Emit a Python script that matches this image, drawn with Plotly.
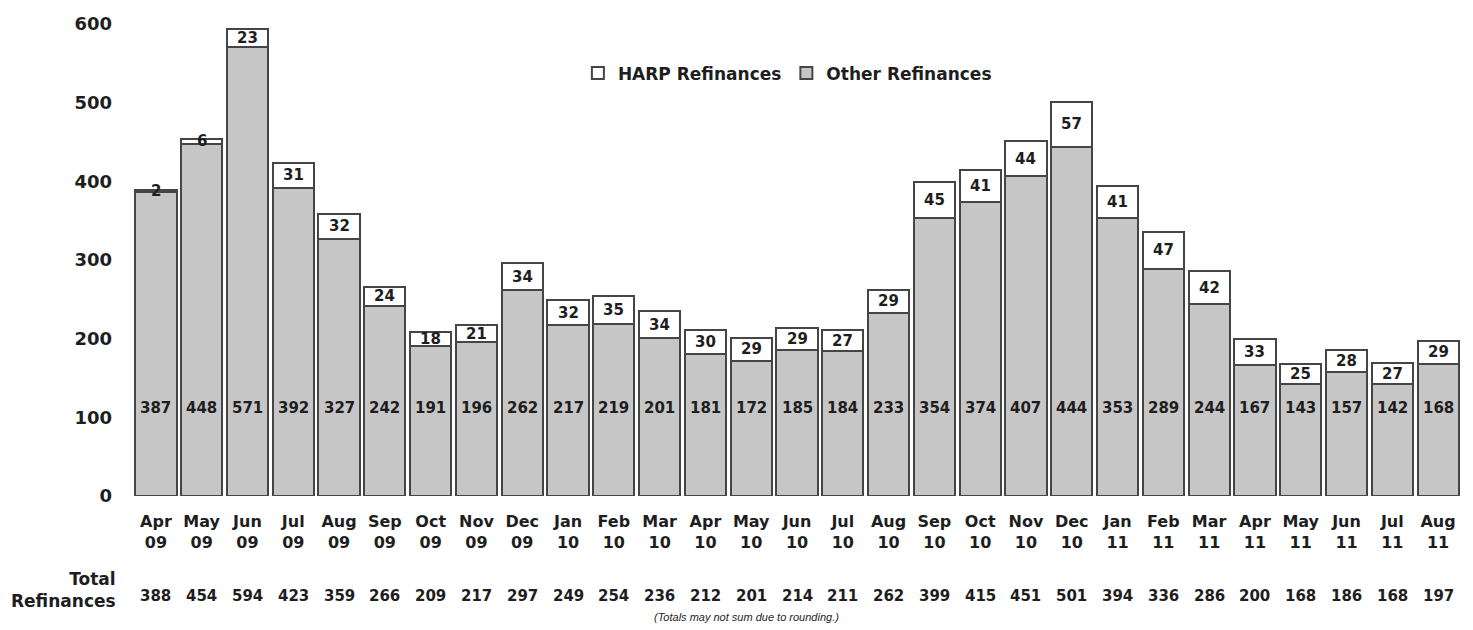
import plotly.graph_objects as go

months = ["Apr 09", "May 09", "Jun 09", "Jul 09", "Aug 09", "Sep 09", "Oct 09", "Nov 09", "Dec 09",
          "Jan 10", "Feb 10", "Mar 10", "Apr 10", "May 10", "Jun 10", "Jul 10", "Aug 10", "Sep 10",
          "Oct 10", "Nov 10", "Dec 10", "Jan 11", "Feb 11", "Mar 11", "Apr 11", "May 11", "Jun 11",
          "Jul 11", "Aug 11"]
other = [387, 448, 571, 392, 327, 242, 191, 196, 262, 217, 219, 201, 181, 172, 185, 184, 233, 354,
         374, 407, 444, 353, 289, 244, 167, 143, 157, 142, 168]
harp = [2, 6, 23, 31, 32, 24, 18, 21, 34, 32, 35, 34, 30, 29, 29, 27, 29, 45, 41, 44, 57, 41, 47,
        42, 33, 25, 28, 27, 29]
totals = [388, 454, 594, 423, 359, 266, 209, 217, 297, 249, 254, 236, 212, 201, 214, 211, 262, 399,
          415, 451, 501, 394, 336, 286, 200, 168, 186, 168, 197]

FONT = "DejaVu Sans"
TXT = "#1e1e1e"
GRAY = "#c6c6c6"
EDGE = "#454545"

fig = go.Figure()
fig.add_trace(go.Bar(x=months, y=other, name="<b>Other Refinances</b>",
                     marker=dict(color=GRAY, line=dict(color=EDGE, width=2))))
fig.add_trace(go.Bar(x=months, y=harp, name="<b>HARP Refinances</b>",
                     marker=dict(color="white", line=dict(color=EDGE, width=2))))

annotations = []
for m, o, h, t in zip(months, other, harp, totals):
    annotations.append(dict(x=m, y=112, xref="x", yref="y", text=f"<b>{o}</b>", showarrow=False,
                            font=dict(family=FONT, size=15, color=TXT), yanchor="middle"))
    annotations.append(dict(x=m, y=o + h / 2, xref="x", yref="y", text=f"<b>{h}</b>", showarrow=False,
                            font=dict(family=FONT, size=15, color=TXT), yanchor="middle"))
    annotations.append(dict(x=m, y=-0.212, xref="x", yref="paper",
                            text=f"<b>{t}</b>", showarrow=False,
                            font=dict(family=FONT, size=15, color=TXT), yanchor="middle"))

annotations.append(dict(x=-0.011, y=-0.2, xref="paper", yref="paper", text="<b>Total<br>Refinances</b>",
                        showarrow=False, xanchor="right", align="right", yanchor="middle",
                        font=dict(family=FONT, size=17, color=TXT)))
annotations.append(dict(x=0.4616, y=-0.257, xref="paper", yref="paper",
                        text="<i>(Totals may not sum due to rounding.)</i>", showarrow=False,
                        yanchor="middle", font=dict(family="Liberation Sans", size=11, color=TXT)))

ticktext = [m.replace(" ", "<br>") for m in months]

fig.update_layout(
    width=1465, height=622,
    margin=dict(l=125, r=12, t=16, b=134),
    paper_bgcolor="white", plot_bgcolor="white",
    barmode="stack", bargap=0.1,
    showlegend=True,
    legend=dict(orientation="h", x=0.335, y=0.895, xanchor="left", yanchor="middle",
                traceorder="reversed", font=dict(family=FONT, size=17, color=TXT),
                itemwidth=30, bgcolor="rgba(0,0,0,0)"),
    annotations=annotations,
    xaxis=dict(tickmode="array", tickvals=months, ticktext=[f"<b>{t}</b>" for t in ticktext],
               tickfont=dict(family=FONT, size=16, color=TXT), showgrid=False, showline=False,
               ticks="", ticklabelstandoff=14, automargin=False),
    yaxis=dict(range=[0, 600], tickvals=[0, 100, 200, 300, 400, 500, 600],
               ticktext=[f"<b>{v}</b>" for v in [0, 100, 200, 300, 400, 500, 600]],
               tickfont=dict(family=FONT, size=18, color=TXT), showgrid=False, showline=False,
               zeroline=False, ticks="", ticklabelstandoff=20, automargin=False),
)

fig.write_html("out.html")
